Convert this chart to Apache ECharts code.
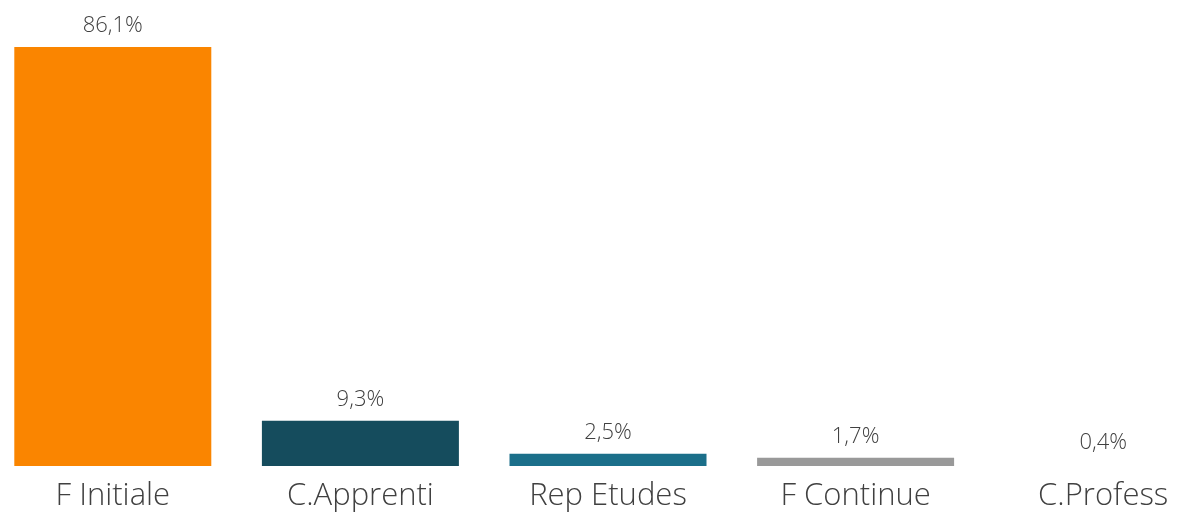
<!DOCTYPE html>
<html>
<head>
<meta charset="utf-8">
<script src="https://cdn.jsdelivr.net/npm/echarts@6/dist/echarts.min.js"></script>
<style>
  html, body { margin: 0; padding: 0; background: #fff; }
  #chart { width: 1180px; height: 514px; }
</style>
</head>
<body>
<div id="chart"></div>
<script>
const categories = ["F Initiale", "C.Apprenti", "Rep Etudes", "F Continue", "C.Profess"];
const values = [86.1, 9.3, 2.5, 1.7, 0.4];
const barColors = ["#FA8500", "#154C5D", "#1B6F8A", "#999999", "#FFFFFF"];

const chart = echarts.init(document.getElementById("chart"));
const font = "'Open Sans', 'DejaVu Sans', sans-serif";

chart.setOption({
  animation: false,
  grid: { left: -11, width: 1238, top: 28, bottom: 48, outerBoundsMode: "none", containLabel: false },
  xAxis: {
    type: "category",
    data: categories,
    axisLine: { show: false },
    axisTick: { show: false },
    axisLabel: { color: "#404040", fontSize: 31, fontFamily: font, fontWeight: 300, margin: 15 },
  },
  yAxis: { type: "value", min: 0, max: 90, show: false, splitLine: { show: false } },
  series: [
    {
      type: "bar",
      barWidth: 197,
      data: values.map((v, i) => ({ value: v, itemStyle: { color: barColors[i] } })),
      label: {
        show: true,
        position: "top",
        distance: 10,
        color: "#404040",
        fontSize: 22,
        fontFamily: font,
        fontWeight: 300,
        formatter: (p) => p.value.toFixed(1).replace(".", ",") + "%",
      },
    },
  ],
});
</script>
</body>
</html>
